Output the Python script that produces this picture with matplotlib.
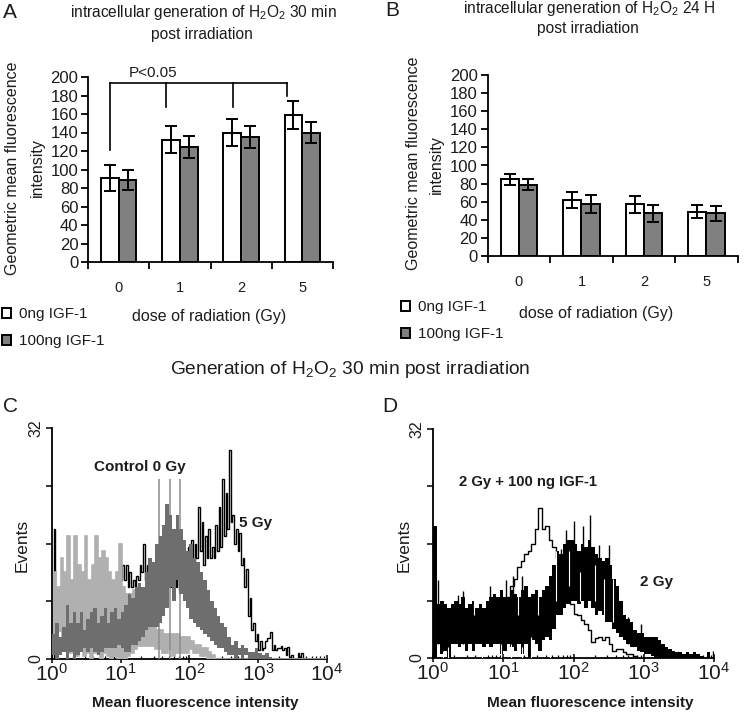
import numpy as np
import matplotlib
matplotlib.use('Agg')
import matplotlib.pyplot as plt
from matplotlib.ticker import LogLocator, NullFormatter

plt.rcParams['font.family'] = ['Liberation Sans', 'DejaVu Sans']
plt.rcParams['mathtext.fontset'] = 'custom'
plt.rcParams['mathtext.rm'] = 'Liberation Sans'
plt.rcParams['mathtext.bf'] = 'Liberation Sans:bold'
plt.rcParams['mathtext.default'] = 'regular'

# barras
doses = ['0', '1', '2', '5']
a_branco = [91, 132, 140, 159]
a_cinza = [89, 124, 135, 140]
a_err_branco = [14, 14.5, 15, 15]
a_err_cinza = [11, 12, 12, 11]
b_branco = [85, 62, 57, 49]
b_cinza = [79, 57, 47, 47]
b_err_branco = [6, 9, 9, 7]
b_err_cinza = [6, 10, 9, 8]
y_ticks_barras = list(range(0, 201, 20))

# chave do P<0.05
chave_x = [-0.14, 0.77, 1.86, 2.75]
chave_fim = [121, 168, 168, 180]
chave_topo = 193

# histogramas, 20 canais por decada
c_escuro_hi = [3.5, 5, 3, 4.5, 7.5, 5, 6.5, 5, 6.5, 4, 5.5, 6.5, 7, 5, 6, 7, 5, 6.5, 7, 5.5,
               6.5, 7.5, 9, 8.5, 10, 10.5, 10, 12, 14, 13.5, 16, 17, 18.5, 21.5, 20, 18, 20, 18, 16.5, 15,
               16, 14, 13.5, 12, 11, 9.5, 8, 7, 6, 5, 4.5, 3, 2, 2.5, 1.5, 2, 1.5, 1, 1, 1.5,
               0.8, 0.5, 0.8, 0.3, 0, 0, 0, 0, 0, 0, 0, 0, 0, 0, 0, 0, 0, 0, 0, 0]
c_escuro_lo = [0.5, 0, 0.5, 1, 0, 1, 0, 0.5, 1, 1.5, 1, 1.5, 1, 0.5, 1, 1.5, 1.5, 1.5, 1.5, 2,
               1.5, 1, 1, 2, 2, 2.5, 3, 4, 4.5, 4.5, 4.5, 5, 6, 7, 10, 8, 11, 9, 8, 7,
               5.5, 5, 4.5, 4, 3.5, 3, 2.5, 2, 1.5, 1.5, 1, 0.5, 0.5, 0, 0.5, 0, 0.5, 0, 0, 0,
               0, 0, 0, 0, 0, 0, 0, 0, 0, 0, 0, 0, 0, 0, 0, 0, 0, 0, 0, 0]
c_picos_dec = [1.55, 1.71, 1.86]
c_picos_val = [25, 25, 25]
c_claro_hi = [12, 10, 14, 12, 17, 11, 17, 13, 12, 17, 11, 13, 17, 14, 15, 14, 12, 11, 12, 16,
              10, 9, 9, 9.5, 8, 8, 6, 5.5, 4.5, 4.5, 4, 4, 3.5, 3.5, 3.5, 3.5, 3.5, 3, 3, 3,
              2.5, 2, 2, 1.5, 1.5, 1, 0.5, 0, 0, 0, 0, 0, 0, 0, 0, 0, 0, 0, 0, 0,
              0, 0, 0, 0, 0, 0, 0, 0, 0, 0, 0, 0, 0, 0, 0, 0, 0, 0, 0, 0]
c_claro_lo = [3, 5, 4, 2.5, 3, 1, 1.5, 0.5, 1.5, 0.5, 1, 0, 1, 1, 0, 1, 0.5, 0, 0.5, 0,
              0, 0, 0.5, 1, 1.5, 2, 2, 2, 2, 2, 1.5, 1.5, 1, 1, 1.5, 0.5, 1, 1, 1, 1,
              1.5, 1, 1, 0.5, 0.5, 0, 0, 0, 0, 0, 0, 0, 0, 0, 0, 0, 0, 0, 0, 0,
              0, 0, 0, 0, 0, 0, 0, 0, 0, 0, 0, 0, 0, 0, 0, 0, 0, 0, 0, 0]
c_preto_hi = [18, 5, 5, 5.5, 5.5, 5.5, 5.5, 5.5, 6, 6, 6, 7, 7.5, 8, 8, 7.5, 8, 9, 9.5, 11,
              13, 13, 12, 11, 11.5, 13, 16, 13, 13, 11, 11, 12, 13, 12, 12, 13, 14, 14.5, 15, 15.5,
              16.5, 16, 21, 19, 17, 18, 15.5, 18.5, 21, 25, 23, 29, 20, 18, 17.5, 14, 12.5, 8.5, 5, 3.5,
              2.5, 1.5, 2.9, 3.8, 2, 1.5, 1.8, 1.5, 1.7, 0.5, 0, 0.8, 0.8, 0.2, 0, 0, 0, 0, 0, 0]
c_preto_lo = [0, 4, 4, 4.5, 4.5, 5, 5, 5, 5, 5, 5, 6, 6.5, 7, 7, 6.5, 7, 8, 8.5, 9.5,
              11, 11, 10, 10, 10, 11, 12, 11, 10, 9.5, 9.5, 9.5, 9.5, 9.5, 10, 10.5, 10, 9.5, 9.5, 10,
              11, 13, 14, 15, 13, 14, 14, 14, 15, 15.5, 17, 18, 19, 16, 15, 13, 10, 6, 4, 2.5,
              1.2, 1.2, 2.5, 2.9, 1.2, 1.2, 1.5, 1.2, 0.5, 0.3, 0, 0, 0.3, 0, 0, 0, 0, 0, 0, 0]

d_preto_hi = [18.5, 7.5, 8, 7.5, 7, 7.5, 8, 7.5, 8.5, 7, 7.5, 8, 7, 7.5, 7, 8, 8.5, 9, 8.5, 9.5,
              8.5, 8.5, 9.5, 9, 8.5, 9.5, 10, 8.5, 9, 9.5, 8.5, 9.5, 10, 11.5, 13, 15, 14.5, 16, 16.5, 16.5,
              16, 15, 16, 15.5, 16.5, 15.5, 14.5, 14, 13.5, 14, 13, 11, 10, 8, 6, 5.5, 5, 3.9, 3.5, 3.5,
              3, 3, 3, 3, 2.5, 2, 1.5, 1.2, 1, 0.8, 0.8, 0.5, 0.8, 0.5, 0.8, 0.5, 0.3, 0, 0.8, 0.5]
d_preto_lo = [0, 2, 0.5, 1, 0, 2, 2, 1.5, 2, 1, 2, 1, 2, 2, 1.5, 2, 1.5, 2, 2, 0.5,
              1, 2, 1.5, 1, 2, 0.5, 2, 0, 2.5, 2, 1, 2.5, 3, 2.5, 4, 6, 6, 7, 7.5, 8,
              8, 7.5, 8, 7, 8, 7, 6, 6.5, 6, 5, 5, 4, 3.5, 3, 2.5, 2, 1.5, 1.5, 1, 0.8,
              0.5, 0.5, 0.3, 0, 0, 0, 0, 0, 0, 0, 0, 0, 0, 0, 0, 0, 0, 0, 0, 0]
d_linha = [6, 5, 5, 6, 4, 5, 4, 6, 5, 4, 6, 5, 4, 5, 6, 5, 6, 6, 7, 8,
           7, 8.5, 10, 11, 12.7, 13.5, 14.6, 15, 16, 18, 21, 18, 18.5, 16.5, 15.5, 14, 12.7, 11, 9, 7.5,
           6.2, 6, 5.3, 4.8, 3.9, 2.2, 2.8, 3, 2.5, 2.9, 2, 1, 1.2, 1.3, 0.8, 0.5, 0.5, 0.3, 0, 0,
           0, 0, 0, 0, 0, 0, 0, 0, 0, 0, 0, 0, 0, 0, 0, 0, 0, 0, 0, 0]
d_picos_dec = [0.07, 0.36, 0.43, 0.81, 1.04, 1.14, 1.26, 1.66, 1.82, 1.9, 2.01, 2.13, 2.24, 2.37, 2.51, 2.77, 2.96, 3.99]
d_picos_ini = [2, 2, 2, 2, 2, 2, 2, 3, 8, 8, 9, 9, 9, 9, 7, 2, 2, 0]
d_picos_val = [10.9, 8.8, 9.3, 10, 10.9, 11.4, 11.4, 10.9, 15.3, 17.9, 19.2, 18.4, 20, 15.8, 15.8, 5.7, 4.8, 1]
# falhas brancas na faixa preta
d_falha_dec = [0.14, 0.22, 0.7, 0.97, 1.11, 1.27, 1.4, 1.66, 0.59, 1.21, 1.49, 1.75, 1.94, 2.09, 2.3, 2.44, 2.56]
d_falha_ini = [0, 0, 0, 0, 0, 0, 0, 0, 6, 6, 6, 8, 10, 8, 8, 6, 5]
d_falha_fim = [1, 1.5, 1.5, 2, 2, 1.5, 3, 2.5, 9, 10, 10, 15, 15, 12, 13, 11, 11]
decadas = np.arange(80) / 20


W, H = 750, 718
fig = plt.figure(figsize=(W / 100, H / 100), dpi=100)
COR = '#1c1c1c'


def eixo(esq, dir, topo, base):
    # posicao em pixels da imagem
    return fig.add_axes([esq / W, 1 - base / H, (dir - esq) / W, (base - topo) / H])


def texto(x, y, s, **kw):
    kw.setdefault('ha', 'center')
    kw.setdefault('va', 'center')
    kw.setdefault('color', COR)
    fig.text(x / W, 1 - y / H, s, **kw)


def barras(ax, branco, cinza, err_b, err_c):
    x = np.arange(4)
    larg = 0.29
    estilo = dict(ecolor='black', capsize=4, error_kw=dict(elinewidth=1.4, capthick=1.4))
    ax.bar(x - larg / 2, branco, larg, color='white', edgecolor='black', linewidth=1.4,
           yerr=err_b, label='0ng IGF-1', **estilo)
    ax.bar(x + larg / 2, cinza, larg, color='#808080', edgecolor='black', linewidth=1.4,
           yerr=err_c, label='100ng IGF-1', **estilo)
    ax.set_xlim(-0.5, 3.5)
    ax.set_ylim(0, 200)
    ax.set_yticks(y_ticks_barras)
    ax.set_xticks(np.arange(5) - 0.5)
    ax.set_xticklabels([])
    ax.set_xticks(x, doses, minor=True)
    ax.tick_params(axis='x', which='minor', length=0, pad=14, labelsize=10.5, labelcolor=COR)
    ax.tick_params(axis='x', which='major', length=5, width=1.3)
    ax.tick_params(axis='y', length=5, width=1.3, labelsize=12, labelcolor=COR, pad=2)
    for lado in ['top', 'right']:
        ax.spines[lado].set_visible(False)
    for lado in ['left', 'bottom']:
        ax.spines[lado].set_linewidth(1.3)


def legenda(ax, x, y):
    ax.legend(loc='upper left', bbox_to_anchor=(x / W, 1 - y / H), bbox_transform=fig.transFigure,
              frameon=False, fontsize=11, handlelength=0.62, handleheight=0.62, handletextpad=0.5,
              labelspacing=0.85, borderpad=0, borderaxespad=0, labelcolor=COR)


def banda(ax, lo, hi, cor, lw, zorder):
    # cada canal alterna minimo/maximo, como o serrilhado do citometro
    xz = 10 ** np.ravel(np.column_stack([decadas, decadas + 0.025]))
    yz = np.ravel(np.column_stack([lo, hi]))
    ax.step(xz, yz, where='post', color=cor, lw=lw, zorder=zorder, solid_joinstyle='miter')


def eixo_hist(ax):
    ax.set_xscale('log')
    ax.set_xlim(1, 1e4)
    ax.set_ylim(0, 32)
    ax.set_yticks([0, 8, 16, 24, 32], ['0', '', '', '', '32'], rotation=90, va='center',
                  fontsize=11.5, color=COR)
    ax.set_xticks([1, 10, 100, 1000, 10000],
                  ['$10^{0}$', '$10^{1}$', '$10^{2}$', '$10^{3}$', '$10^{4}$'], fontsize=15, color=COR)
    ax.xaxis.set_minor_locator(LogLocator(base=10, subs=range(2, 10), numticks=10))
    ax.xaxis.set_minor_formatter(NullFormatter())
    ax.tick_params(axis='x', which='major', direction='inout', length=6, width=1.1, pad=0)
    ax.tick_params(axis='x', which='minor', direction='in', length=2.5, width=0.9)
    ax.tick_params(axis='y', length=4, width=1.1, pad=2)
    for lado in ['top', 'right']:
        ax.spines[lado].set_visible(False)
    for lado in ['left', 'bottom']:
        ax.spines[lado].set_linewidth(1.3)


# A
axA = eixo(88, 333, 77, 262)
barras(axA, a_branco, a_cinza, a_err_branco, a_err_cinza)
axA.plot([chave_x[0], chave_x[-1]], [chave_topo, chave_topo], color='black', lw=1.2, clip_on=False)
for xc, fim in zip(chave_x, chave_fim):
    axA.plot([xc, xc], [chave_topo, fim], color='black', lw=1.2, clip_on=False)
legenda(axA, 2, 307)
texto(153, 73, 'P<0.05', fontsize=11)
texto(10, 12, 'A', fontsize=15)
texto(203, 12, 'intracellular generation of H$_2$O$_2$ 30 min', fontsize=11.2)
texto(202, 34, 'post irradiation', fontsize=11.2)
texto(13, 168, 'Geometric mean fluorescence', fontsize=11.5, rotation=90)
texto(37, 168, 'intensity', fontsize=11.5, rotation=90)
texto(209, 316, 'dose of radiation (Gy)', fontsize=11.5)

# B
axB = eixo(487.7, 737.7, 75, 256)
barras(axB, b_branco, b_cinza, b_err_branco, b_err_cinza)
legenda(axB, 401, 300)
texto(392, 10, 'B', fontsize=15)
texto(589, 9, 'intracellular generation of H$_2$O$_2$ 24 H', fontsize=11.2)
texto(588, 29, 'post irradiation', fontsize=11.2)
texto(413, 163, 'Geometric mean fluorescence', fontsize=11.5, rotation=90)
texto(436, 165, 'intensity', fontsize=11.5, rotation=90)
texto(596, 313, 'dose of radiation (Gy)', fontsize=11.5)

texto(350, 369, 'Generation of H$_2$O$_2$ 30 min post irradiation', fontsize=13.8)

# C
x = 10 ** decadas
axC = eixo(52, 327, 428, 659)
eixo_hist(axC)
banda(axC, c_preto_lo, c_preto_hi, 'black', 1.0, 2)
banda(axC, c_claro_lo, c_claro_hi, '#b0b0b0', 1.9, 3)
axC.vlines(10 ** np.array(c_picos_dec), 0, c_picos_val, color='#8c8c8c', lw=1.1, zorder=3)
axC.fill_between(x, c_escuro_lo, c_escuro_hi, step='post', color='#6e6e6e', lw=0, zorder=4)
texto(140, 467, 'Control 0 Gy', fontsize=11, fontweight='bold')
texto(256, 523, '5 Gy', fontsize=11, fontweight='bold')
texto(22, 545, 'Events', fontsize=12.5, rotation=90)
texto(195, 703, 'Mean fluorescence intensity', fontsize=11.1, fontweight='bold')
texto(10, 407, 'C', fontsize=15)

# D
axD = eixo(433, 714, 429, 658)
eixo_hist(axD)
axD.step(x, d_linha, where='post', color='black', lw=1.0, zorder=2)
axD.fill_between(x, d_preto_lo, d_preto_hi, step='post', color='black', lw=0, zorder=3)
axD.vlines(10 ** np.array(d_picos_dec), d_picos_ini, d_picos_val, color='black', lw=1.0, zorder=3)
axD.vlines(10 ** np.array(d_falha_dec), d_falha_ini, d_falha_fim, color='white', lw=0.8, zorder=4)
texto(528, 482, '2 Gy + 100 ng IGF-1', fontsize=10.7, fontweight='bold')
texto(657, 582, '2 Gy', fontsize=11, fontweight='bold')
texto(404, 545, 'Events', fontsize=12.5, rotation=90)
texto(590, 703, 'Mean fluorescence intensity', fontsize=11.1, fontweight='bold')
texto(390, 406, 'D', fontsize=15)

fig.savefig('out.png', dpi=100)
